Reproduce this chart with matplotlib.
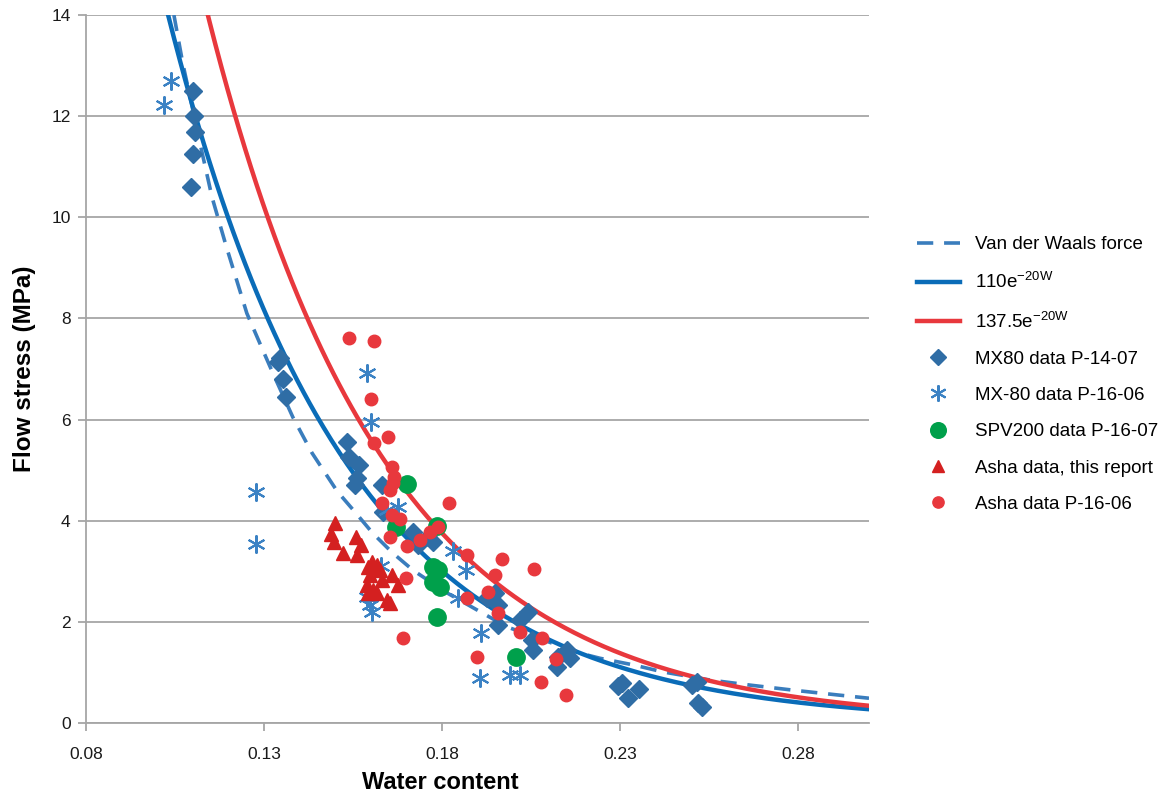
import numpy as np
import matplotlib
matplotlib.use("Agg")
import matplotlib.pyplot as plt

plt.rcParams["font.family"] = ["Liberation Sans", "DejaVu Sans"]
plt.rcParams["mathtext.default"] = "regular"

# MX80 data P-14-07 (water content, flow stress MPa)
mx80_w = [0.1101, 0.1103, 0.1106, 0.1101, 0.1095, 0.1345, 0.1339, 0.1353, 0.1362,
          0.1533, 0.1539, 0.1567, 0.1561, 0.1556, 0.1631, 0.1634, 0.1719, 0.1775,
          0.1733, 0.1761, 0.1949, 0.1926, 0.1957, 0.2042, 0.2019, 0.1957, 0.2053,
          0.2056, 0.2151, 0.2126, 0.2123, 0.2160, 0.2306, 0.2294, 0.2323, 0.2353,
          0.2502, 0.2516, 0.2519, 0.2530]
mx80_s = [12.49, 12.00, 11.68, 11.25, 10.59, 7.21, 7.13, 6.80, 6.44,
          5.55, 5.26, 5.10, 4.84, 4.70, 4.70, 4.17, 3.77, 3.58,
          3.52, 3.68, 2.57, 2.47, 2.33, 2.19, 2.04, 1.94, 1.64,
          1.44, 1.44, 1.30, 1.11, 1.28, 0.79, 0.73, 0.49, 0.67,
          0.75, 0.81, 0.40, 0.32]

# MX-80 data P-16-06
mx80b_w = [0.1039, 0.1019, 0.1278, 0.1278, 0.1589, 0.1601, 0.1676, 0.1646, 0.1831,
           0.1867, 0.1845, 0.1910, 0.1907, 0.1991, 0.2019, 0.1629, 0.1598, 0.1603,
           0.1589]
mx80b_s = [12.69, 12.23, 4.57, 3.54, 6.92, 5.95, 4.27, 4.21, 3.40,
           3.02, 2.47, 1.78, 0.89, 0.95, 0.95, 3.10, 2.33, 2.19,
           2.49]

# SPV200 data P-16-07
spv_w = [0.1702, 0.1671, 0.1786, 0.1775, 0.1789, 0.1775, 0.1794, 0.1786, 0.2008]
spv_s = [4.72, 3.87, 3.89, 3.08, 3.02, 2.79, 2.69, 2.09, 1.30]

# Asha data, this report
asha_w = [0.1500, 0.1488, 0.1497, 0.1522, 0.1558, 0.1572, 0.1561, 0.1603, 0.1592,
          0.1617, 0.1660, 0.1598, 0.1631, 0.1676, 0.1589, 0.1606, 0.1592, 0.1617,
          0.1646, 0.1654, 0.1626]
asha_s = [3.95, 3.74, 3.58, 3.36, 3.68, 3.52, 3.32, 3.18, 3.08,
          3.12, 2.92, 2.92, 2.83, 2.73, 2.73, 2.63, 2.57, 2.57,
          2.43, 2.37, 3.02]

# Asha data P-16-06
ashab_w = [0.1539, 0.1609, 0.1601, 0.1648, 0.1609, 0.1660, 0.1665, 0.1663, 0.1654,
           0.1631, 0.1820, 0.1660, 0.1682, 0.1789, 0.1766, 0.1654, 0.1738, 0.1702,
           0.1870, 0.1969, 0.2058, 0.1949, 0.1699, 0.1929, 0.1870, 0.1957, 0.2019,
           0.2081, 0.1690, 0.1898, 0.2120, 0.2078, 0.2148]
ashab_s = [7.61, 7.55, 6.40, 5.65, 5.53, 5.06, 4.86, 4.74, 4.60,
           4.35, 4.35, 4.11, 4.03, 3.87, 3.77, 3.68, 3.62, 3.50,
           3.32, 3.24, 3.04, 2.92, 2.87, 2.59, 2.47, 2.17, 1.80,
           1.68, 1.68, 1.30, 1.26, 0.81, 0.55]

# Van der Waals force curve
vdw_w = [0.1047, 0.1072, 0.1123, 0.1154, 0.1193, 0.1252, 0.1297, 0.1325, 0.1381,
         0.1435, 0.1506, 0.1556, 0.1606, 0.1662, 0.1719, 0.1815, 0.1915, 0.1983,
         0.2188, 0.2244, 0.2337, 0.2421, 0.2553, 0.2665, 0.2786, 0.2918, 0.3000]
vdw_s = [14.0, 13.04, 11.38, 10.40, 9.45, 8.10, 7.37, 6.92, 6.05,
         5.34, 4.58, 4.17, 3.75, 3.36, 3.02, 2.57, 2.17, 1.90,
         1.38, 1.28, 1.15, 1.01, 0.85, 0.75, 0.65, 0.55, 0.49]

# exponential fits  a * exp(-20 W)
fit_a = [110, 137.5]
fit_labels = ["110e$^{\u221220W}$", "137.5e$^{\u221220W}$"]

xticks = [0.08, 0.13, 0.18, 0.23, 0.28]
yticks = [0, 2, 4, 6, 8, 10, 12, 14]

c_fit1 = "#0a6cb8"
c_fit2 = "#e8383d"
c_vdw = "#3a7dbd"
c_diam = "#2f6da5"
c_star = "#3b82c4"
c_green = "#00a04b"
c_tri = "#d42020"
c_red = "#e8383d"
grid_c = "#a6a6a6"

fig = plt.figure(figsize=(11.68, 8), dpi=100)
ax = fig.add_axes([86 / 1168, 77 / 800, 783 / 1168, 708 / 800])

w = np.linspace(0.08, 0.30, 400)
ax.plot(vdw_w, vdw_s, color=c_vdw, lw=2.6, dashes=(4.5, 3), zorder=2,
        label="Van der Waals force")
ax.plot(w, fit_a[0] * np.exp(-20 * w), color=c_fit1, lw=3.2, zorder=2,
        label=fit_labels[0])
ax.plot(w, fit_a[1] * np.exp(-20 * w), color=c_fit2, lw=3.2, zorder=2,
        label=fit_labels[1])

ax.plot(mx80_w, mx80_s, ls="none", marker="D", ms=9.5, color=c_diam,
        mec=c_diam, zorder=3, label="MX80 data P-14-07")
ax.plot(mx80b_w, mx80b_s, ls="none", marker=(6, 2, 0), ms=13, mew=1.5,
        color=c_star, zorder=3, label="MX-80 data P-16-06")
ax.plot(spv_w, spv_s, ls="none", marker="o", ms=12.5, color=c_green,
        mec=c_green, zorder=3, label="SPV200 data P-16-07")
ax.plot(asha_w, asha_s, ls="none", marker="^", ms=9.5, color=c_tri,
        mec=c_tri, zorder=3, label="Asha data, this report")
ax.plot(ashab_w, ashab_s, ls="none", marker="o", ms=9, color=c_red,
        mec=c_red, zorder=3, label="Asha data P-16-06")

ax.set_xlim(0.08, 0.30)
ax.set_ylim(0, 14)
ax.set_xticks(xticks)
ax.set_xticklabels([f"{t:.2f}" for t in xticks])
ax.set_yticks(yticks)
ax.grid(axis="y", color=grid_c, lw=1.3, zorder=0)
ax.set_axisbelow(True)
for side in ("top", "right"):
    ax.spines[side].set_visible(False)
for side in ("left", "bottom"):
    ax.spines[side].set_color(grid_c)
    ax.spines[side].set_linewidth(1.3)
ax.tick_params(axis="both", colors=grid_c, width=1.3, length=6,
               labelcolor="#1a1a1a", labelsize=12.5, pad=5)
ax.tick_params(axis="x", pad=11)

ax.set_xlabel("Water content", fontsize=17, fontweight="bold")
ax.xaxis.set_label_coords(0.452, -0.068)
ax.set_ylabel("Flow stress (MPa)", fontsize=17.5, fontweight="bold", labelpad=11)

handles, labels = ax.get_legend_handles_labels()
leg = fig.legend(handles, labels, loc="center left",
                 bbox_to_anchor=(0.771, 0.532), frameon=False, fontsize=13.5,
                 labelspacing=1.02, handlelength=2.25, handletextpad=0.8,
                 markerscale=0.9)

fig.savefig("out.png", dpi=100)
